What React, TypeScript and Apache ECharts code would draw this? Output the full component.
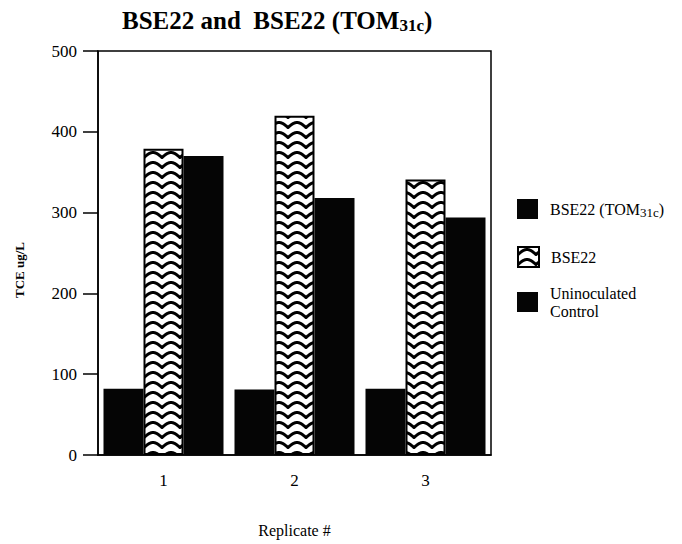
import React, { useEffect, useRef } from 'react';
import * as echarts from 'echarts';

const categories = ['1', '2', '3'];
const seriesNames = ['BSE22 (TOM31c)', 'BSE22', 'Uninoculated Control'];
const tomValues = [82, 81, 82];
const bse22Values = [379, 420, 341];
const controlValues = [370, 318, 294];
const yMin = 0;
const yMax = 500;
const yInterval = 100;

const FONT = 'Liberation Serif';

function makeWave(): string {
  const w = 18;
  const h = 10;
  const c = document.createElement('canvas');
  c.width = w;
  c.height = h;
  const ctx = c.getContext('2d');
  if (!ctx) return '';
  ctx.fillStyle = '#fff';
  ctx.fillRect(0, 0, w, h);
  ctx.strokeStyle = '#000';
  ctx.lineWidth = 3;
  ctx.lineJoin = 'round';
  for (const off of [-h, 0, h]) {
    ctx.beginPath();
    for (let x = -2; x <= w + 2; x += 0.25) {
      const y = off + 7.5 - 5 * Math.abs(Math.sin((Math.PI * x) / w));
      if (x === -2) ctx.moveTo(x, y);
      else ctx.lineTo(x, y);
    }
    ctx.stroke();
  }
  return c.toDataURL();
}

export default function App() {
  const ref = useRef<HTMLDivElement>(null);
  useEffect(() => {
    if (!ref.current) return;
    const chart = echarts.init(ref.current, undefined, { renderer: 'svg' });
    const wave = {
      image: makeWave(),
      imageWidth: 18,
      imageHeight: 10,
      repeat: 'repeat',
    };
    const baseLegend = {
      left: 517,
      orient: 'vertical',
      padding: 0,
      itemWidth: 21,
      itemHeight: 20,
      icon: 'rect',
      selectedMode: false,
    };
    const option: any = {
      animation: false,
      backgroundColor: '#fff',
      title: {
        text: 'BSE22 and  BSE22 (TOM{sub|31c})',
        left: 122,
        top: 6,
        padding: 0,
        textStyle: {
          fontFamily: FONT,
          fontSize: 25,
          fontWeight: 'bold',
          color: '#000',
          lineHeight: 28,
          rich: {
            sub: {
              fontFamily: FONT,
              fontSize: 17,
              fontWeight: 'bold',
              color: '#000',
              lineHeight: 12,
              verticalAlign: 'bottom',
            },
          },
        },
      },
      legend: [
        {
          ...baseLegend,
          top: 199,
          data: [seriesNames[0]],
          formatter: () => 'BSE22 (TOM{sub|31c})',
          textStyle: {
            fontFamily: FONT,
            fontSize: 16,
            color: '#000',
            lineHeight: 20,
            padding: [0, 0, 0, 7],
            rich: {
              sub: {
                fontFamily: FONT,
                fontSize: 13,
                color: '#000',
                lineHeight: 11,
                verticalAlign: 'bottom',
              },
            },
          },
        },
        {
          ...baseLegend,
          top: 246,
          data: [seriesNames[1]],
          textStyle: {
            fontFamily: FONT,
            fontSize: 16,
            color: '#000',
            lineHeight: 20,
            padding: [0, 0, 0, 7],
          },
        },
        {
          ...baseLegend,
          top: 270,
          data: [seriesNames[2]],
          formatter: () => 'Uninoculated\nControl',
          textStyle: {
            fontFamily: FONT,
            fontSize: 16,
            color: '#000',
            lineHeight: 18,
            padding: [28, 0, 0, 7],
          },
        },
      ],
      grid: {
        left: 98,
        right: 191,
        top: 51,
        bottom: 89,
        show: true,
        borderColor: '#000',
        borderWidth: 1.5,
        backgroundColor: 'transparent',
      },
      xAxis: {
        type: 'category',
        data: categories,
        name: 'Replicate #',
        nameLocation: 'middle',
        nameGap: 67,
        nameTextStyle: { fontFamily: FONT, fontSize: 16, color: '#000' },
        axisLine: { lineStyle: { color: '#000', width: 1.5 } },
        axisTick: { alignWithLabel: true, length: 10, lineStyle: { color: '#000', width: 1.5 } },
        axisLabel: { margin: 17, fontFamily: FONT, fontSize: 17, color: '#000' },
      },
      yAxis: {
        type: 'value',
        min: yMin,
        max: yMax,
        interval: yInterval,
        name: 'TCE ug/L',
        nameLocation: 'middle',
        nameRotate: 90,
        nameGap: 72,
        nameTextStyle: {
          fontFamily: FONT,
          fontSize: 13,
          fontWeight: 'bold',
          color: '#000',
          padding: [0, 34, 0, 0],
        },
        splitLine: { show: false },
        axisLine: { show: true, lineStyle: { color: '#000', width: 1.5 } },
        axisTick: { show: true, length: 15, lineStyle: { color: '#000', width: 1.5 } },
        axisLabel: { margin: 21, fontFamily: FONT, fontSize: 17, color: '#000' },
      },
      series: [
        {
          name: seriesNames[0],
          type: 'bar',
          data: tomValues,
          barWidth: 40,
          barGap: '0%',
          itemStyle: { color: '#050505' },
        },
        {
          name: seriesNames[1],
          type: 'bar',
          data: bse22Values,
          barWidth: 40,
          barGap: '0%',
          itemStyle: { color: wave, borderColor: '#000', borderWidth: 2 },
        },
        {
          name: seriesNames[2],
          type: 'bar',
          data: controlValues,
          barWidth: 40,
          barGap: '0%',
          itemStyle: { color: '#050505' },
        },
      ],
    };
    chart.setOption(option);
    return () => chart.dispose();
  }, []);
  return (
    <div
      ref={ref}
      style={{ position: 'fixed', left: 0, top: 0, width: 682, height: 544, background: '#fff' }}
    />
  );
}
